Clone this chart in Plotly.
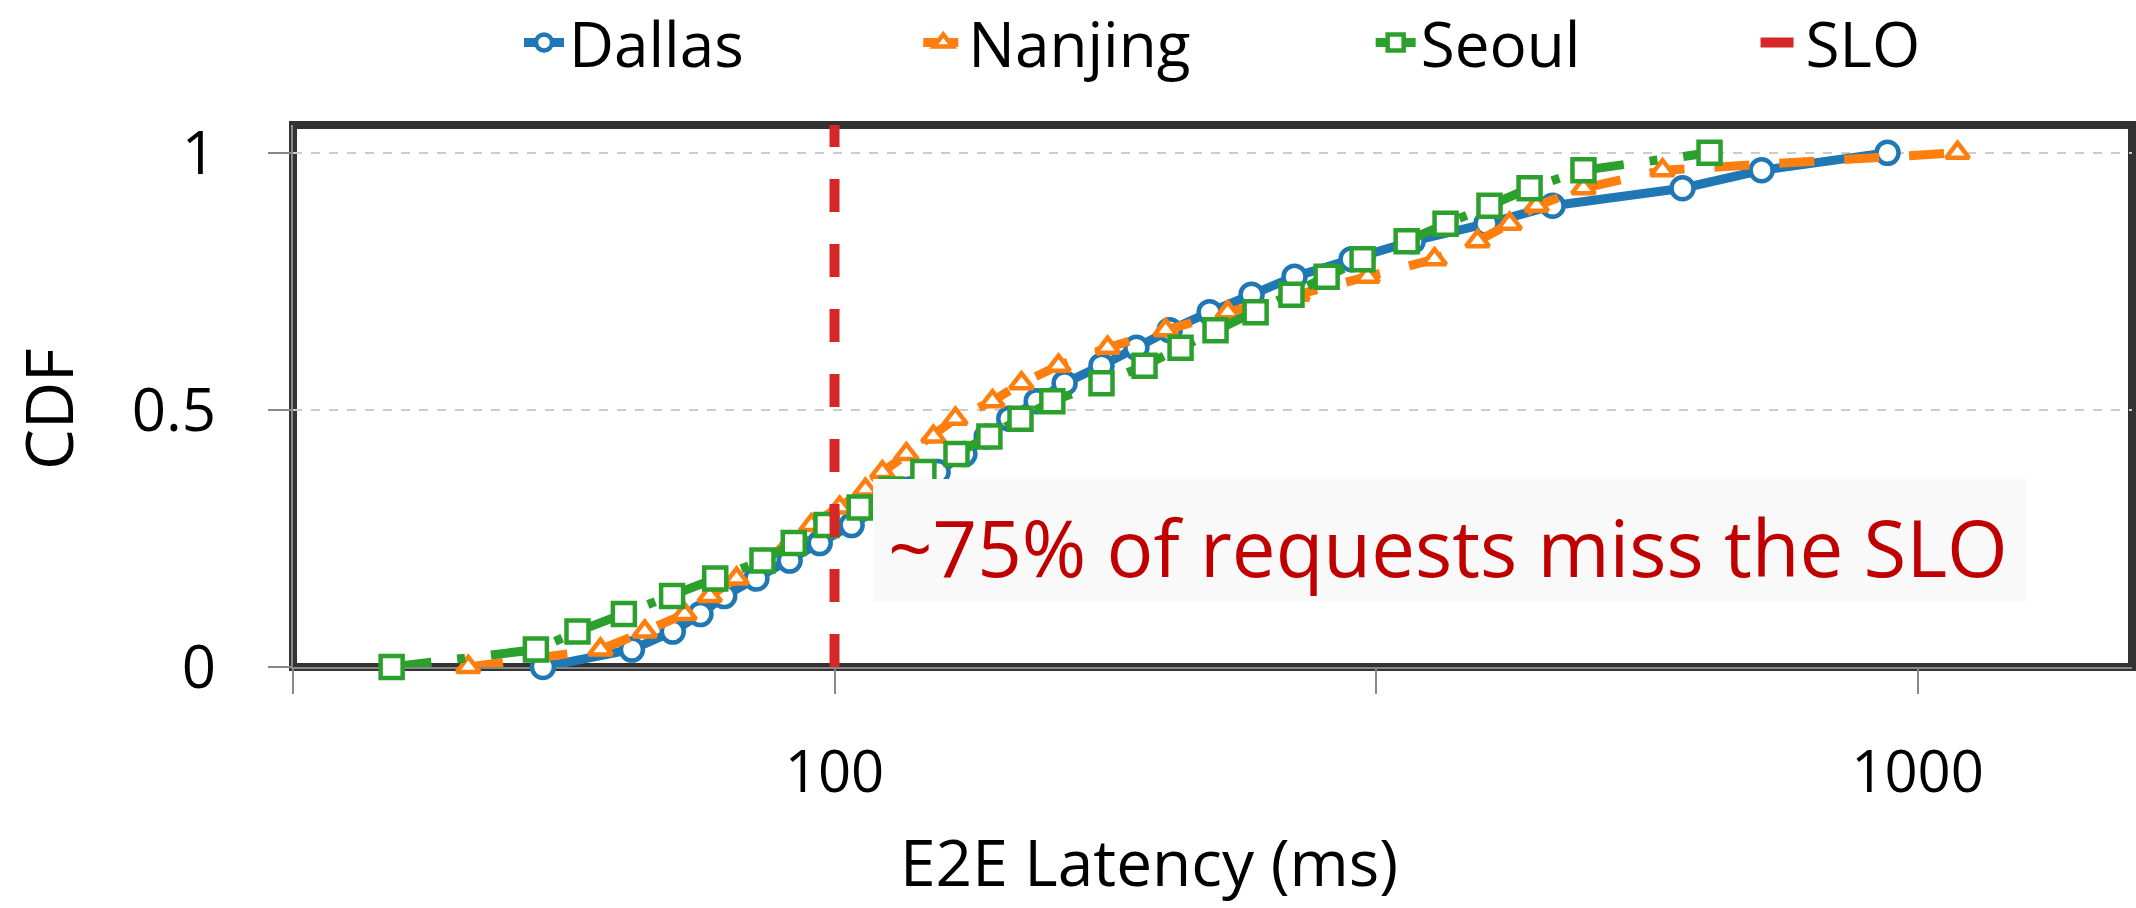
import plotly.graph_objects as go

# Empirical CDF levels shared by the three regions (30 quantile points)
cdf_levels = [0.000, 0.034, 0.069, 0.103, 0.138, 0.172, 0.207, 0.241, 0.276, 0.310,
              0.345, 0.379, 0.414, 0.448, 0.483, 0.517, 0.552, 0.586, 0.621, 0.655,
              0.690, 0.724, 0.759, 0.793, 0.828, 0.862, 0.897, 0.931, 0.966, 1.000]

# End-to-end latency (ms) at each CDF level
dallas_ms = [53.8, 65.0, 70.9, 75.2, 79.1, 84.7, 90.9, 96.9, 103.7, 110.0,
             117.3, 124.5, 131.8, 138.2, 145.0, 153.7, 163.1, 176.4, 190.0, 203.9,
             222.0, 242.7, 265.9, 300.2, 341.8, 399.9, 460.3, 606.7, 717.8, 938.2]
nanjing_ms = [45.9, 60.8, 66.8, 72.7, 76.7, 81.2, 85.8, 90.9, 95.2, 101.1,
              106.8, 110.7, 116.5, 123.4, 129.3, 139.9, 148.8, 161.0, 178.7, 202.2,
              230.7, 267.6, 310.6, 358.1, 392.4, 420.1, 444.9, 491.5, 581.4, 1088.7]
seoul_ms = [39.0, 53.0, 57.9, 63.9, 70.8, 77.6, 85.8, 91.7, 98.3, 105.5,
            112.9, 120.8, 129.6, 139.0, 148.5, 158.9, 176.4, 193.3, 208.7, 224.8,
            244.8, 264.2, 284.7, 307.3, 337.5, 366.6, 402.5, 438.3, 491.5, 642.6]

slo_ms = 100
slo_span = [0.0, 1.06]

x_tick_vals = [31.62, 100, 316.2, 1000]
x_tick_text = ["", "100", "", "1000"]
y_tick_vals = [0, 0.5, 1]
y_tick_text = ["0", "0.5", "1"]

FONT = "Open Sans"
BLUE, ORANGE, GREEN, RED = "#1f77b4", "#ff7f0e", "#2ca02c", "#d62728"

fig = go.Figure()

series = [
    ("Dallas", dallas_ms, BLUE, "solid", "circle", 22, "legend"),
    ("Nanjing", nanjing_ms, ORANGE, "35px,30px", "triangle-up", 20, "legend2"),
    ("Seoul", seoul_ms, GREEN, "40px,26px,8px,26px", "square", 22, "legend3"),
]
for name, xs, color, dash, symbol, size, leg in series:
    fig.add_trace(go.Scatter(
        x=xs, y=cdf_levels, name=name, mode="lines+markers",
        line=dict(color=color, width=9, dash=dash),
        marker=dict(symbol=symbol, size=size, color="white",
                    line=dict(color=color, width=4.5)),
        cliponaxis=False, legend=leg, showlegend=True,
    ))

fig.add_trace(go.Scatter(
    x=[slo_ms, slo_ms], y=slo_span, name="SLO", mode="lines",
    line=dict(color=RED, width=10, dash="33px,32px"),
    legend="legend4", showlegend=True,
))

legend_common = dict(
    orientation="h", yanchor="middle", xanchor="left", y=1.152,
    font=dict(family=FONT, size=62, color="black"),
    bgcolor="rgba(0,0,0,0)", borderwidth=0, itemwidth=40,
)
fig.update_layout(
    showlegend=True,
    legend=dict(x=0.1229, **legend_common),
    legend2=dict(x=0.3400, **legend_common),
    legend3=dict(x=0.5860, **legend_common),
    legend4=dict(x=0.7953, **legend_common),
)

# Plot frame
fig.add_shape(type="rect", xref="paper", yref="paper", x0=0, x1=1, y0=0, y1=1,
              line=dict(color="#333333", width=8), layer="below")

# Callout box
fig.add_shape(type="rect", xref="paper", yref="paper",
              x0=0.3154, x1=0.9424, y0=0.1199, y1=0.3469,
              fillcolor="#f9f9f9", line=dict(width=0), layer="above")
fig.add_annotation(text="~75% of requests miss the SLO", xref="paper", yref="paper",
                   x=0.628, y=0.221, xanchor="center", yanchor="middle",
                   showarrow=False, font=dict(family=FONT, size=78, color="#c00000"))

# Axis titles
fig.add_annotation(text="E2E Latency (ms)", xref="paper", yref="paper",
                   x=0.4655, y=-0.443, xanchor="center", yanchor="bottom",
                   showarrow=False, font=dict(family=FONT, size=64, color="black"))
fig.add_annotation(text="CDF", xref="paper", yref="paper", textangle=-90,
                   x=-0.1332, y=0.476, xanchor="center", yanchor="middle",
                   showarrow=False, font=dict(family=FONT, size=65, color="black"))

fig.update_xaxes(
    type="log", range=[1.5, 3.198], showgrid=False, zeroline=False,
    tickvals=x_tick_vals, ticktext=x_tick_text,
    ticks="outside", ticklen=25, tickwidth=2, tickcolor="#888888",
    showline=True, linecolor="#888888", linewidth=2, layer="below traces",
    tickfont=dict(family=FONT, size=58, color="black"), ticklabelstandoff=28,
)
fig.update_yaxes(
    range=[0, 1.054], tickvals=y_tick_vals, ticktext=y_tick_text,
    showgrid=True, gridcolor="#cccccc", griddash="dash", gridwidth=2,
    zeroline=False, ticks="outside", ticklen=23, tickwidth=2, tickcolor="#888888",
    showline=True, linecolor="#888888", linewidth=2, layer="below traces",
    tickfont=dict(family=FONT, size=60, color="black"), ticklabelstandoff=40,
)

fig.update_layout(
    width=2136, height=908,
    margin=dict(l=293, r=4, t=125, b=241, autoexpand=False),
    plot_bgcolor="white", paper_bgcolor="white",
    font=dict(family=FONT),
)

fig.write_html("out.html")
